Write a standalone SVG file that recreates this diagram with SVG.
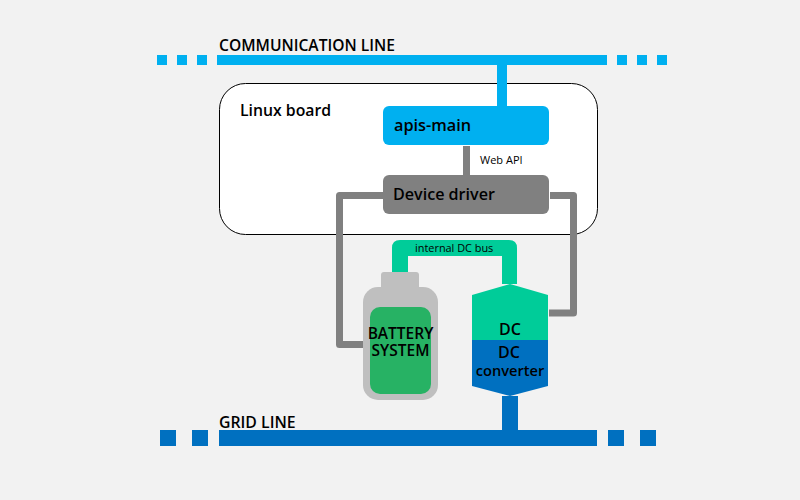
<svg xmlns="http://www.w3.org/2000/svg" width="800" height="500" viewBox="0 0 800 500">
<style>
text{font-family:"Open Sans","Noto Sans","Liberation Sans",sans-serif;fill:#000;font-weight:600}
.comm{fill:#00B0F0}.grid{fill:#0070C0}.gray{fill:#808080}.green{fill:#00CC99}
.wire{fill:none;stroke:#808080;stroke-width:7;stroke-linejoin:round}
.small{font-weight:400}
</style>
<rect width="800" height="500" fill="#F2F2F2"/>
<g id="board"><rect x="219.500" y="83.500" width="378" height="151" rx="26" fill="#FFF" stroke="#000" stroke-width="1"/><text x="240" y="116" style="font-size:15.800px">Linux board</text></g>
<g id="communication-line">
<rect class="comm" x="157" y="55" width="10" height="10"/><rect class="comm" x="177" y="55" width="10" height="10"/><rect class="comm" x="197" y="55" width="10" height="10"/>
<rect class="comm" x="217" y="55" width="390" height="10"/>
<rect class="comm" x="617" y="55" width="10" height="10"/><rect class="comm" x="637" y="55" width="10" height="10"/><rect class="comm" x="657" y="55" width="10" height="10"/>
<text x="219" y="51" style="font-size:15.600px">COMMUNICATION LINE</text></g>
<g id="grid-line">
<rect class="grid" x="160" y="430" width="16" height="16"/><rect class="grid" x="192" y="430" width="16" height="16"/>
<rect class="grid" x="219" y="430" width="378" height="16"/>
<rect class="grid" x="608" y="430" width="16" height="16"/><rect class="grid" x="640" y="430" width="16" height="16"/>
<text x="219" y="428" style="font-size:15.800px">GRID LINE</text></g>
<g id="connectors">
<rect class="comm" x="497" y="65" width="10" height="41"/>
<rect class="gray" x="463" y="146" width="7" height="29"/>
<path class="wire" d="M383 195.500H339.500V344.500H363"/>
<path class="wire" d="M550 195.500H573.500V313H549"/>
<path class="green" d="M392 272V248Q392 240 400 240H509Q517 240 517 248V284H502V256H408V272Z"/>
<rect class="grid" x="502" y="396" width="16" height="34"/>
<text class="small" x="480" y="164" style="font-size:11px">Web API</text>
<text class="small" x="415" y="252" style="font-size:10.900px">internal DC bus</text>
</g>
<g id="apis-main"><rect class="comm" x="383" y="106" width="166" height="39" rx="6"/><text x="394" y="131" style="font-size:16.300px">apis-main</text></g>
<g id="device-driver"><rect class="gray" x="383" y="175" width="166" height="39" rx="6"/><text x="393" y="200" style="font-size:16.100px">Device driver</text></g>
<g id="battery-system">
<rect x="381" y="272" width="38" height="20" rx="3" fill="#BFBFBF"/>
<rect x="363" y="287" width="75" height="113" rx="15" fill="#BFBFBF"/>
<rect x="370" y="307" width="61" height="87" rx="10" fill="#27B264"/>
<text text-anchor="middle" style="font-size:15.500px"><tspan x="400.500" y="339">BATTERY</tspan><tspan x="400.500" y="356">SYSTEM</tspan></text></g>
<g id="dc-converter">
<path class="green" d="M472 295L510 284L548 295V340H472Z"/>
<path class="grid" d="M472 340H548V386L510 396L472 386Z"/>
<text x="510" y="335" text-anchor="middle" style="font-size:16px">DC</text>
<text text-anchor="middle"><tspan x="509" y="358" style="font-size:16px">DC</tspan><tspan x="510" y="376" style="font-size:14.600px">converter</tspan></text></g>
</svg>
